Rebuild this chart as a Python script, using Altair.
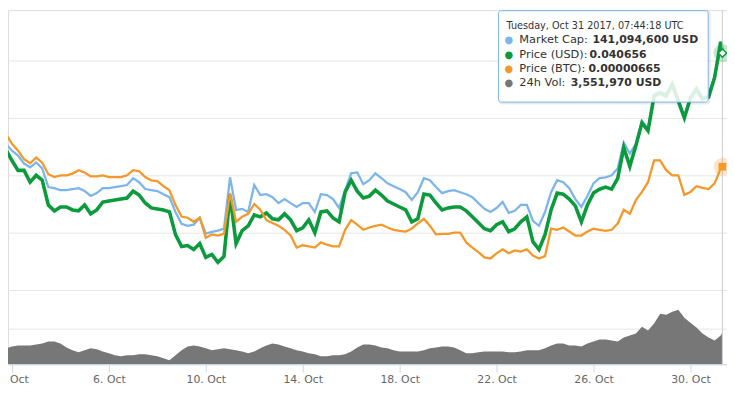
import altair as alt
import pandas as pd

# ---- data (day-of-October, UTC) ----
DAYS = [round(1.5 + 0.25 * i, 2) for i in range(120)] + [31.32]

MARKET_CAP_MUSD = [
    107.9, 111.0, 108.6, 106.9, 104.1, 102.8, 104.5, 102.4, 95.9, 95.5,
    94.8, 94.8, 95.2, 95.5, 94.5, 92.8, 93.8, 95.5, 95.5, 95.9,
    96.2, 96.6, 99.0, 97.6, 95.2, 94.8, 94.5, 93.4, 92.4, 87.2,
    83.1, 82.4, 82.8, 85.2, 79.7, 80.3, 80.7, 81.4, 99.3, 87.9,
    88.3, 87.2, 96.6, 93.1, 93.4, 92.4, 90.3, 91.7, 90.3, 89.0,
    90.3, 90.3, 87.2, 93.4, 93.1, 91.7, 88.6, 94.8, 100.7, 101.0,
    96.9, 98.3, 100.7, 99.0, 97.2, 96.2, 95.2, 94.1, 91.4, 94.1,
    99.0, 98.3, 95.9, 93.8, 94.5, 94.8, 94.1, 93.4, 92.4, 90.3,
    88.3, 87.2, 88.6, 90.7, 86.9, 87.6, 89.7, 89.7, 84.1, 82.4,
    87.2, 94.1, 98.3, 97.6, 95.5, 91.7, 89.0, 92.8, 97.2, 99.0,
    99.3, 100.0, 102.4, 111.4, 107.6, 111.0, 119.0, 116.2, 128.3, 129.3,
    128.3, 132.4, 126.6, 120.7, 127.6, 130.7, 127.2, 127.9, 134.8, 145.2,
    141.0946,
]

PRICE_USD = [
    0.03129, 0.03224, 0.03129, 0.03043, 0.03043, 0.02940, 0.03000, 0.02957, 0.02741, 0.02690,
    0.02724, 0.02724, 0.02698, 0.02690, 0.02741, 0.02664, 0.02698, 0.02767, 0.02776, 0.02784,
    0.02793, 0.02802, 0.02862, 0.02828, 0.02759, 0.02716, 0.02707, 0.02698, 0.02681, 0.02483,
    0.02379, 0.02388, 0.02353, 0.02405, 0.02284, 0.02310, 0.02241, 0.02293, 0.02828, 0.02405,
    0.02517, 0.02560, 0.02655, 0.02638, 0.02672, 0.02621, 0.02612, 0.02664, 0.02612, 0.02517,
    0.02543, 0.02612, 0.02500, 0.02681, 0.02690, 0.02629, 0.02595, 0.02853, 0.02957, 0.02862,
    0.02802, 0.02819, 0.02871, 0.02828, 0.02776, 0.02750, 0.02724, 0.02698, 0.02595, 0.02621,
    0.02836, 0.02828, 0.02759, 0.02698, 0.02716, 0.02724, 0.02724, 0.02690, 0.02638, 0.02586,
    0.02534, 0.02517, 0.02569, 0.02595, 0.02509, 0.02534, 0.02595, 0.02638, 0.02422, 0.02353,
    0.02483, 0.02698, 0.02845, 0.02836, 0.02793, 0.02733, 0.02595, 0.02741, 0.02845, 0.02879,
    0.02897, 0.02879, 0.02974, 0.03241, 0.03078, 0.03259, 0.03457, 0.03388, 0.03690, 0.03716,
    0.03690, 0.03793, 0.03647, 0.03500, 0.03672, 0.03750, 0.03664, 0.03681, 0.03853, 0.04164,
    0.040656,
]

PRICE_BTC_SAT = [
    707, 722, 705, 693, 678, 671, 681, 672, 652, 647,
    650, 650, 653, 659, 655, 648, 648, 650, 647, 647,
    647, 650, 659, 657, 647, 641, 640, 631, 624, 598,
    578, 576, 569, 576, 541, 547, 545, 548, 619, 569,
    578, 583, 600, 590, 572, 567, 562, 555, 545, 524,
    528, 526, 524, 533, 529, 526, 526, 555, 572, 564,
    555, 559, 562, 564, 559, 555, 553, 552, 557, 566,
    574, 562, 547, 548, 548, 550, 550, 533, 524, 516,
    507, 505, 514, 521, 514, 519, 517, 521, 510, 505,
    509, 557, 555, 559, 552, 545, 545, 552, 557, 555,
    553, 555, 566, 590, 583, 607, 621, 638, 676, 676,
    659, 650, 650, 616, 621, 631, 628, 626, 636, 662,
    665,
]

VOLUME_MUSD = [
    1.56, 1.78, 2.00, 2.11, 2.11, 2.11, 2.22, 2.33, 2.56, 2.56,
    2.33, 1.89, 1.56, 1.33, 1.56, 1.78, 1.67, 1.44, 1.22, 1.00,
    0.89, 1.00, 1.00, 1.11, 1.11, 1.00, 0.89, 0.67, 0.44, 1.00,
    1.56, 2.00, 2.11, 2.00, 1.78, 1.56, 1.67, 1.78, 1.67, 1.56,
    1.44, 1.22, 1.44, 1.78, 2.11, 2.33, 2.22, 2.00, 1.78, 1.56,
    1.44, 1.22, 1.11, 0.89, 0.89, 1.00, 1.00, 1.11, 1.44, 1.89,
    2.22, 2.22, 2.11, 1.89, 1.78, 1.56, 1.44, 1.44, 1.44, 1.44,
    1.56, 1.78, 1.89, 2.00, 2.00, 1.89, 1.56, 1.22, 1.22, 1.33,
    1.44, 1.44, 1.44, 1.44, 1.33, 1.33, 1.44, 1.56, 1.56, 1.56,
    1.78, 2.11, 2.33, 2.33, 2.11, 2.11, 2.00, 2.33, 2.56, 2.78,
    2.78, 2.67, 2.56, 3.00, 3.22, 3.44, 4.22, 3.78, 4.56, 5.67,
    5.56, 5.89, 6.11, 5.22, 4.67, 4.11, 3.44, 3.00, 2.67, 3.22,
    3.55197,
]

X_TICKS = [2, 6, 10, 14, 18, 22, 26, 30]

TOOLTIP_TITLE = "Tuesday, Oct 31 2017, 07:44:18 UTC"
TOOLTIP_LABELS = ["Market Cap:", "Price (USD):", "Price (BTC):", "24h Vol:"]
TOOLTIP_VALUES = ["141,094,600 USD", "0.040656", "0.00000665", "3,551,970 USD"]

# ---- styling ----
FONT = "DejaVu Sans"
C_MCAP = "#7cb5ec"
C_USD = "#0b9a3c"
C_BTC = "#f5982a"
C_VOL = "#777777"
GRID = "#e6e6e6"

df = pd.DataFrame({
    "day": DAYS,
    "mcap": [v * 1e6 for v in MARKET_CAP_MUSD],
    "usd": PRICE_USD,
    "btc": [v * 1e-8 for v in PRICE_BTC_SAT],
    "vol": [v * 1e6 for v in VOLUME_MUSD],
})
last = df.tail(1)

xscale = alt.Scale(domain=[1.8367, 31.5102], nice=False, zero=False)
xaxis = alt.Axis(values=X_TICKS, labelExpr="datum.value + '. Oct'", grid=False,
                 tickSize=8, tickColor="#ccd6eb", domainColor="#ccd6eb",
                 labelColor="#666666", labelFont=FONT, labelFontSize=11,
                 labelPadding=1, title=None, labelFlush=False, labelOverlap=False)
X = alt.X("day:Q", scale=xscale, axis=xaxis)

s_usd = alt.Scale(domain=[0.0135345, 0.044397], nice=False, zero=False)
s_mcap = alt.Scale(domain=[34.138e6, 157.586e6], nice=False, zero=False)
s_btc = alt.Scale(domain=[320.69e-8, 937.93e-8], nice=False, zero=False)
s_vol = alt.Scale(domain=[0, 39.7778e6], nice=False, zero=True)

base = alt.Chart(df)

vol = base.mark_area(color=C_VOL, clip=True).encode(
    x=X,
    y=alt.Y("vol:Q", scale=s_vol,
            axis=alt.Axis(values=[4e6, 8.3333e6], grid=True, gridColor=GRID, labels=False,
                          ticks=False, domain=False, title=None)),
)
mcap = base.mark_line(color=C_MCAP, strokeWidth=2.3, clip=True).encode(
    x=X, y=alt.Y("mcap:Q", scale=s_mcap, axis=None))
usd = base.mark_line(color=C_USD, strokeWidth=3.6, clip=True).encode(
    x=X,
    y=alt.Y("usd:Q", scale=s_usd,
            axis=alt.Axis(values=[0.02, 0.025, 0.03, 0.035, 0.04], grid=True,
                          gridColor=GRID, labels=False, ticks=False, domain=False,
                          title=None)))
btc = base.mark_line(color=C_BTC, strokeWidth=2.3, clip=True).encode(
    x=X, y=alt.Y("btc:Q", scale=s_btc, axis=None))

cross = alt.Chart(last).mark_rule(color="#cccccc", strokeWidth=1).encode(x=X)

lb = alt.Chart(last)
usd_halo = lb.mark_circle(size=320, color=C_USD, opacity=0.25).encode(
    x=X, y=alt.Y("usd:Q", scale=s_usd, axis=None))
usd_mark = lb.mark_point(shape="diamond", filled=True, fill="white", stroke=C_USD,
                         strokeWidth=1.5, size=70, opacity=1).encode(
    x=X, y=alt.Y("usd:Q", scale=s_usd, axis=None))
btc_halo = lb.mark_circle(size=320, color=C_BTC, opacity=0.25).encode(
    x=X, y=alt.Y("btc:Q", scale=s_btc, axis=None))
btc_mark = lb.mark_point(shape="square", filled=True, color=C_BTC, size=60,
                         opacity=1).encode(
    x=X, y=alt.Y("btc:Q", scale=s_btc, axis=None))

# tooltip box (positions are in plot pixels; plot starts at page (8, 8))
OX, OY = 8, 8
one = pd.DataFrame({"k": [0]})
shadow = alt.Chart(one).mark_rect(fillOpacity=0, stroke="#000000", strokeOpacity=0.08,
                                  strokeWidth=3, cornerRadius=3).encode(
    x=alt.value(505 - OX), x2=alt.value(717 - OX), y=alt.value(9 - OY), y2=alt.value(102 - OY))
box = alt.Chart(one).mark_rect(fill="white", fillOpacity=0.85, stroke=C_MCAP,
                               strokeWidth=1, cornerRadius=3).encode(
    x=alt.value(504 - OX), x2=alt.value(716 - OX), y=alt.value(8.5 - OY), y2=alt.value(101 - OY))


def txt(s, x, y, size, bold=False, color="#333333"):
    return alt.Chart(pd.DataFrame({"t": [s]})).mark_text(
        align="left", baseline="middle", font=FONT, fontSize=size,
        fontWeight="bold" if bold else "normal", color=color
    ).encode(x=alt.value(x - OX), y=alt.value(y - OY), text="t:N")


rows_y = [38, 53, 68, 82]
value_x = [599, 596, 595, 577]
bullet_colors = [C_MCAP, C_USD, C_BTC, C_VOL]
tips = [txt(TOOLTIP_TITLE, 512, 24, 9.8)]
for lab, val, yy, vx, bc in zip(TOOLTIP_LABELS, TOOLTIP_VALUES, rows_y, value_x, bullet_colors):
    tips.append(txt("\u25cf", 510, yy, 10, color=bc))
    tips.append(txt(lab, 525, yy, 11.5))
    tips.append(txt(val, vx, yy, 11, bold=True))

chart = alt.layer(
    vol, mcap, usd, btc, cross, usd_halo, btc_halo, usd_mark, btc_mark,
    shadow, box, *tips
).resolve_scale(y="independent").properties(
    width=727, height=358,
    autosize=alt.AutoSizeParams(type="none"),
    padding={"left": 0, "top": 0, "right": 0, "bottom": 32},
).configure_view(stroke=None).configure(background="white")

chart.save("out.html", embed_options={"renderer": "svg", "actions": False})
